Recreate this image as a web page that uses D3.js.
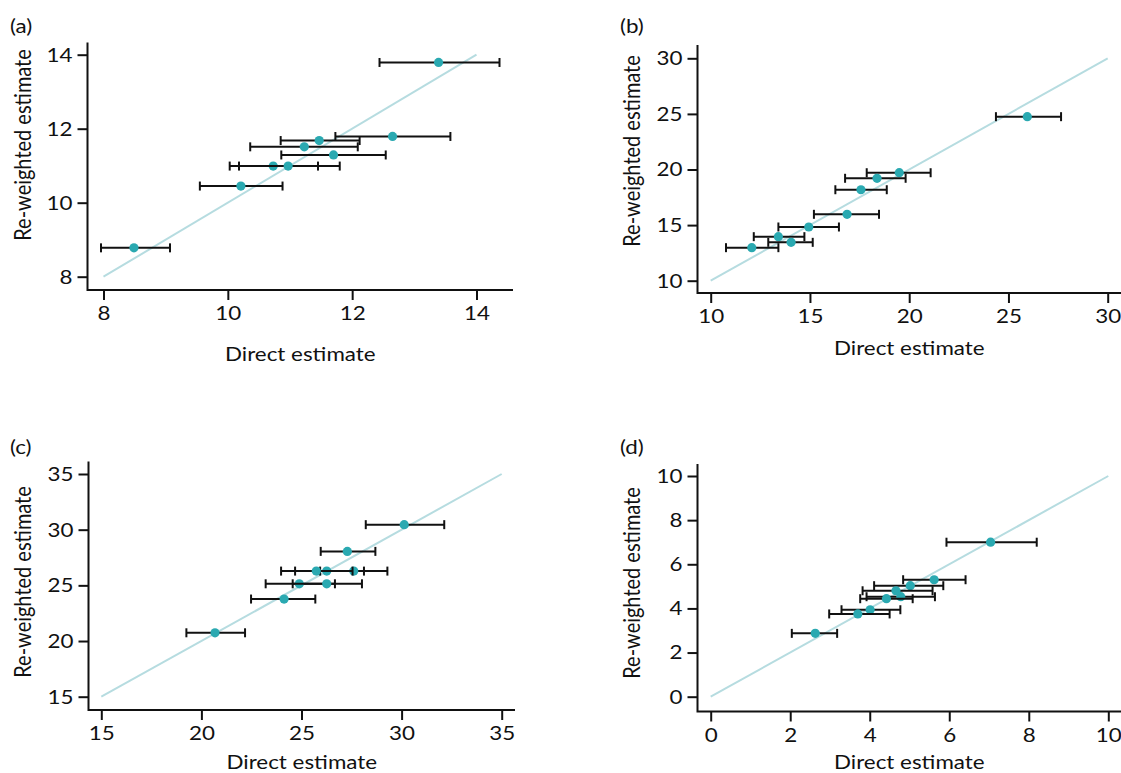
<!DOCTYPE html>
<html>
<head>
<meta charset="utf-8">
<script src="https://cdn.jsdelivr.net/npm/d3@7"></script>
<style>
  html, body { margin: 0; padding: 0; background: #fff; }
  svg { display: block; font-family: Lato, "Open Sans", sans-serif; }
</style>
</head>
<body>
<svg id="chart" width="1121" height="773"></svg>
<script>
// ---- data: direct estimate, re-weighted estimate, CI of direct estimate ----
const panelNames = ["(a)", "(b)", "(c)", "(d)"];

const ticksA = [8, 10, 12, 14];
const directA = [13.39, 12.65, 11.47, 11.23, 11.70, 10.73, 10.97, 10.21, 8.49];
const reweightA = [13.79, 11.79, 11.68, 11.51, 11.29, 10.99, 10.99, 10.45, 8.78];
const lowA = [12.44, 11.73, 10.85, 10.36, 10.86, 10.03, 10.18, 9.55, 7.96];
const highA = [14.37, 13.58, 12.12, 12.09, 12.54, 11.45, 11.80, 10.88, 9.07];

const ticksB = [10, 15, 20, 25, 30];
const directB = [25.95, 19.50, 18.38, 17.57, 16.87, 14.94, 13.41, 14.05, 12.07];
const reweightB = [24.75, 19.71, 19.21, 18.18, 15.97, 14.83, 13.96, 13.45, 12.97];
const lowB = [24.37, 17.86, 16.77, 16.28, 15.20, 13.41, 12.17, 12.90, 10.77];
const highB = [27.65, 21.08, 19.82, 18.87, 18.48, 16.46, 14.72, 15.14, 13.41];

const ticksC = [15, 20, 25, 30, 35];
const directC = [30.13, 27.29, 26.26, 27.61, 25.74, 24.89, 26.26, 24.13, 20.68];
const reweightC = [30.45, 28.05, 26.28, 26.28, 26.28, 25.14, 25.14, 23.77, 20.74];
const lowC = [28.21, 25.96, 24.68, 25.93, 23.98, 23.21, 24.56, 22.48, 19.25];
const highC = [32.13, 28.69, 28.12, 29.29, 27.55, 26.67, 28.02, 25.69, 22.18];

const ticksD = [0, 2, 4, 6, 8, 10];
const directD = [7.04, 5.62, 5.02, 4.66, 4.78, 4.42, 4.01, 3.70, 2.63];
const reweightD = [7.00, 5.30, 5.03, 4.80, 4.53, 4.44, 3.94, 3.75, 2.87];
const lowD = [5.93, 4.84, 4.11, 3.82, 3.92, 3.76, 3.29, 2.98, 2.04];
const highD = [8.20, 6.41, 5.85, 5.58, 5.64, 5.08, 4.77, 4.50, 3.18];

const xTitle = "Direct estimate";
const yTitle = "Re-weighted estimate";

// ---- styling ----
const pointColor = "#2aa9b1";
const lineColor = "#b6dce0";
const inkColor = "#111";
const fontSize = 20;
const wide = 1.12;   // horizontal stretch of the lettering

// ---- panel layout (pixels) ----
const layouts = [
  { left: 87.5, right: 513, top: 42.5, bottom: 290, xRange: [103.5, 476.5], yRange: [276.7, 54.7],
    label: [10, 25.5], yTitlePos: [23, 145], xTitleBase: 361 },
  { left: 697.5, right: 1121, top: 45, bottom: 293, xRange: [710.7, 1107.7], yRange: [280.7, 58.3],
    label: [620, 25.5], yTitlePos: [632, 151], xTitleBase: 355 },
  { left: 88.5, right: 515, top: 461.5, bottom: 710, xRange: [101.3, 501.7], yRange: [696.7, 474],
    label: [10, 446.5], yTitlePos: [23, 582], xTitleBase: 769 },
  { left: 697.5, right: 1121, top: 464, bottom: 711.5, xRange: [710.7, 1108.3], yRange: [696.7, 476],
    label: [620, 446.5], yTitlePos: [632, 583], xTitleBase: 769 }
];

const panels = [
  { ticks: ticksA, direct: directA, reweight: reweightA, low: lowA, high: highA },
  { ticks: ticksB, direct: directB, reweight: reweightB, low: lowB, high: highB },
  { ticks: ticksC, direct: directC, reweight: reweightC, low: lowC, high: highC },
  { ticks: ticksD, direct: directD, reweight: reweightD, low: lowD, high: highD }
];

const svg = d3.select("#chart");

// place a horizontal text at (x, y), widened by the stretch factor
function wideText(sel, x, y) {
  return sel.attr("x", 0).attr("y", 0)
    .attr("transform", `translate(${x},${y}) scale(${wide},1)`);
}

panels.forEach((p, i) => {
  const lay = layouts[i];
  const domain = [p.ticks[0], p.ticks[p.ticks.length - 1]];
  const x = d3.scaleLinear().domain(domain).range(lay.xRange);
  const y = d3.scaleLinear().domain(domain).range(lay.yRange);
  const g = svg.append("g");

  // line of equality
  g.append("line")
    .attr("x1", x(domain[0])).attr("y1", y(domain[0]))
    .attr("x2", x(domain[1])).attr("y2", y(domain[1]))
    .attr("stroke", lineColor).attr("stroke-width", 2);

  // error bars and points, one group per area
  const rows = p.direct.map((d, k) => ({ d, r: p.reweight[k], lo: p.low[k], hi: p.high[k] }));
  const item = g.selectAll("g.item").data(rows).join("g").attr("class", "item");
  item.append("line")
    .attr("x1", r => x(r.lo)).attr("x2", r => x(r.hi))
    .attr("y1", r => y(r.r)).attr("y2", r => y(r.r))
    .attr("stroke", inkColor).attr("stroke-width", 2);
  [r => r.lo, r => r.hi].forEach(acc => {
    item.append("line")
      .attr("x1", r => x(acc(r))).attr("x2", r => x(acc(r)))
      .attr("y1", r => y(r.r) - 4.5).attr("y2", r => y(r.r) + 4.5)
      .attr("stroke", inkColor).attr("stroke-width", 2);
  });
  item.append("circle")
    .attr("cx", r => x(r.d)).attr("cy", r => y(r.r))
    .attr("r", 4.6).attr("fill", pointColor);

  // axes
  const xAxis = d3.axisBottom(x).tickValues(p.ticks).tickSize(10).tickPadding(6).tickFormat(d3.format("d"));
  const yAxis = d3.axisLeft(y).tickValues(p.ticks).tickSize(10).tickPadding(5).tickFormat(d3.format("d"));

  const gx = g.append("g").attr("transform", `translate(0,${lay.bottom})`).call(xAxis);
  const gy = g.append("g").attr("transform", `translate(${lay.left},0)`).call(yAxis);
  [gx, gy].forEach(a => {
    a.select(".domain").remove();
    a.selectAll(".tick line").attr("stroke", inkColor).attr("stroke-width", 2);
    a.selectAll(".tick text").attr("fill", inkColor).style("font-size", fontSize + "px")
      .style("font-family", "Lato, sans-serif");
  });
  gx.selectAll(".tick text").attr("transform", `scale(${wide},1)`);
  gy.selectAll(".tick text").attr("x", -15 / wide).attr("transform", `scale(${wide},1)`);

  // axis lines spanning the plot region
  g.append("path")
    .attr("d", `M${lay.left},${lay.top}V${lay.bottom}H${lay.right}`)
    .attr("fill", "none").attr("stroke", inkColor).attr("stroke-width", 2);

  // titles
  wideText(g.append("text"), (lay.left + lay.right) / 2, lay.xTitleBase)
    .attr("text-anchor", "middle").attr("fill", inkColor)
    .style("font-size", fontSize + "px").text(xTitle);
  g.append("text")
    .attr("transform", `translate(${lay.yTitlePos[0]},${lay.yTitlePos[1]}) rotate(-90) scale(1,${wide})`)
    .attr("text-anchor", "middle").attr("dy", "0.35em").attr("fill", inkColor)
    .style("font-size", fontSize + "px").text(yTitle);
  wideText(g.append("text"), lay.label[0], lay.label[1])
    .attr("dy", "0.35em")
    .attr("fill", inkColor).style("font-size", fontSize + "px").text(panelNames[i]);
});
</script>
</body>
</html>
